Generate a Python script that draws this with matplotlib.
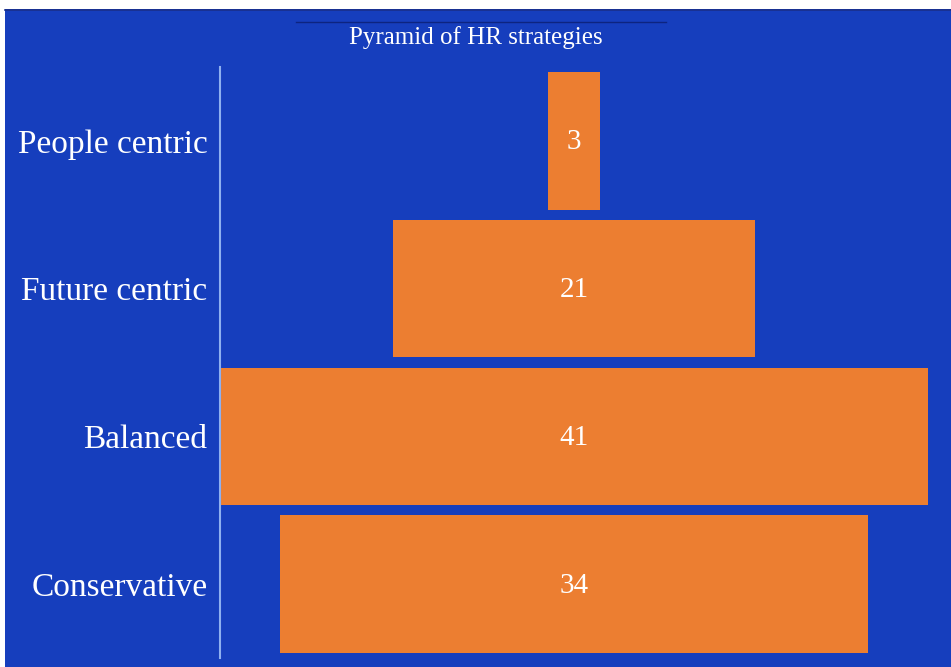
import matplotlib
matplotlib.use("Agg")
import matplotlib.pyplot as plt
from matplotlib.patches import Rectangle
from matplotlib.lines import Line2D

categories = ["People centric", "Future centric", "Balanced", "Conservative"]
values = [3, 21, 41, 34]
title = "Pyramid of HR strategies"

BLUE = "#163ebd"
ORANGE = "#ec7e31"
W, H = 951, 667

fig = plt.figure(figsize=(W / 100, H / 100), dpi=100, facecolor="white")
fig.patches.append(Rectangle((5 / W, 0), 1 - 5 / W, (H - 9) / H, transform=fig.transFigure,
                             facecolor=BLUE, edgecolor="none", zorder=-5))
fig.lines.append(Line2D([5 / W, 1], [(H - 9.5) / H] * 2, transform=fig.transFigure,
                        color="#1a2f8a", lw=1.2, zorder=-4))
fig.lines.append(Line2D([296 / W, 666 / W], [(H - 22) / H] * 2, transform=fig.transFigure,
                        color="#0d2480", lw=1.0))
fig.text(476 / W, (H - 38) / H, title, ha="center", va="center", color="white",
         fontsize=18, family="Liberation Serif")

ax = fig.add_axes([220 / W, 9 / H, 708 / W, 591 / H])
ax.set_facecolor("none")
ypos = list(range(len(categories)))
lefts = [-v / 2 for v in values]
bars = ax.barh(ypos, values, left=lefts, height=0.93, color=ORANGE, edgecolor="none")
for y, v in zip(ypos, values):
    ax.text(0, y + 0.01, str(v), ha="center", va="center", color="white",
            fontsize=21, family="Liberation Serif")
ax.set_xlim(-20.5, 20.5)
ax.set_ylim(len(categories) - 0.5, -0.5)
ax.set_yticks(ypos)
ax.set_yticklabels(categories, family="Liberation Serif", fontsize=24, color="white")
ax.tick_params(axis="y", length=0, pad=9)
ax.set_xticks([])
for s in ["top", "right", "bottom"]:
    ax.spines[s].set_visible(False)
ax.spines["left"].set_color("#8fb0f0")
ax.spines["left"].set_linewidth(1.5)

fig.savefig("out.png", dpi=100, facecolor=fig.get_facecolor())
